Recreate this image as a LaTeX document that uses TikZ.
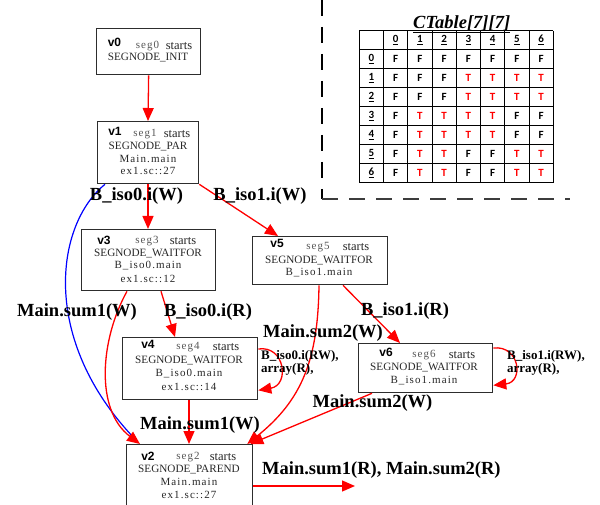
\documentclass[tikz,border=0pt]{standalone}
\usepackage{fontspec}
\setmainfont{Liberation Serif}
\newfontfamily\labsans{Liberation Sans}
\newfontfamily\spacedserif[LetterSpace=10]{Liberation Serif}
\newfontfamily\tabfont{Carlito}
\usetikzlibrary{arrows.meta}
\definecolor{edgered}{RGB}{255,0,0}
\definecolor{edgeblue}{RGB}{0,0,255}
\definecolor{boxline}{RGB}{45,45,45}
\definecolor{bodytext}{RGB}{40,40,40}
\definecolor{segtext}{RGB}{85,85,85}
\definecolor{dashgray}{RGB}{60,60,60}
% one table cell: T in red, F in black
\newcommand\cellval[1]{\if#1T\textcolor{edgered}{T}\else F\fi}
\tikzset{
  segbox/.style={draw=boxline, line width=1.3pt, anchor=north west, inner sep=0pt},
  vname/.style={font=\labsans\bfseries\fontsize{12}{13}\selectfont, inner sep=0pt},
  segname/.style={font=\spacedserif\fontsize{11}{12}\selectfont, text=segtext, inner sep=0pt},
  startstxt/.style={font=\fontsize{12.5}{13}\selectfont, text=bodytext, inner sep=0pt},
  kindtxt/.style={font=\fontsize{11.2}{12}\selectfont, text=bodytext, inner sep=0pt},
  loctxt/.style={font=\spacedserif\fontsize{11}{12}\selectfont, text=bodytext, inner sep=0pt},
  flow/.style={draw=edgered, line width=1.3pt, -{Triangle[length=13pt,width=11pt]}},
  blueflow/.style={draw=edgeblue, line width=1.2pt},
  elabel/.style={font=\fontsize{18.5}{20}\selectfont\bfseries, inner sep=0pt},
  looplabel/.style={font=\fontsize{13}{13}\selectfont\bfseries, inner sep=0pt, align=left, anchor=west},
  tabtxt/.style={font=\tabfont\bfseries\fontsize{11}{12}\selectfont, inner sep=0pt},
  tabline/.style={draw=black, line width=0.9pt},
  sepline/.style={line width=1.3pt, dash pattern=on 16pt off 11pt}
}
\begin{document}
\begin{tikzpicture}[x=1pt, y=-1pt]
\clip (0,0) rectangle (600,505);
\fill[white] (0,0) rectangle (600,505);

% ---------- segment boxes ----------
\node[segbox, minimum width=104pt, minimum height=46pt] (v0) at (96,28) {};
\node[vname] (v0n) at (114.5,42) {v0};
\node[segname] (v0s) at (147.5,46) {seg0};
\node[startstxt] (v0a) at (179,46) {starts};
\node[kindtxt] (v0k) at (148,57.5) {SEGNODE\_INIT};

\node[segbox, minimum width=101pt, minimum height=62pt] (v1) at (97,121) {};
\node[vname] (v1n) at (115,131) {v1};
\node[segname] (v1s) at (145,134) {seg1};
\node[startstxt] (v1a) at (177,134) {starts};
\node[kindtxt] (v1k) at (148,147) {SEGNODE\_PAR};
\node[loctxt] (v1m) at (148,159) {Main.main};
\node[loctxt] (v1l) at (148,171) {ex1.sc::27};

\node[segbox, minimum width=134pt, minimum height=61pt] (v3) at (81,229) {};
\node[vname] (v3n) at (104,240) {v3};
\node[segname] (v3s) at (147,241) {seg3};
\node[startstxt] (v3a) at (183,241) {starts};
\node[kindtxt] (v3k) at (148,253.5) {SEGNODE\_WAITFOR};
\node[loctxt] (v3m) at (148,266) {B\_iso0.main};
\node[loctxt] (v3l) at (148,279) {ex1.sc::12};

\node[segbox, minimum width=135pt, minimum height=48pt] (v5) at (252,236) {};
\node[vname] (v5n) at (277,243) {v5};
\node[segname] (v5s) at (318,247) {seg5};
\node[startstxt] (v5a) at (356,247) {starts};
\node[kindtxt] (v5k) at (319,260.5) {SEGNODE\_WAITFOR};
\node[loctxt] (v5m) at (319,273) {B\_iso1.main};

\node[segbox, minimum width=135pt, minimum height=62pt] (v4) at (122,337) {};
\node[vname] (v4n) at (148,344) {v4};
\node[segname] (v4s) at (188,347.5) {seg4};
\node[startstxt] (v4a) at (226,347.5) {starts};
\node[kindtxt] (v4k) at (189,361) {SEGNODE\_WAITFOR};
\node[loctxt] (v4m) at (189,373.5) {B\_iso0.main};
\node[loctxt] (v4l) at (189,386.5) {ex1.sc::14};

\node[segbox, minimum width=134pt, minimum height=49pt] (v6) at (358,343) {};
\node[vname] (v6n) at (386,352) {v6};
\node[segname] (v6s) at (424,355) {seg6};
\node[startstxt] (v6a) at (462,355) {starts};
\node[kindtxt] (v6k) at (424,367.5) {SEGNODE\_WAITFOR};
\node[loctxt] (v6m) at (424,381) {B\_iso1.main};

\node[segbox, minimum width=126pt, minimum height=66pt] (v2) at (126,444) {};
\node[vname] (v2n) at (148,456) {v2};
\node[segname] (v2s) at (188,457) {seg2};
\node[startstxt] (v2a) at (223,457) {starts};
\node[kindtxt] (v2k) at (189,469.5) {SEGNODE\_PAREND};
\node[loctxt] (v2m) at (189,482) {Main.main};
\node[loctxt] (v2l) at (189,495) {ex1.sc::27};

\coordinate (out) at (355,486);

% ---------- dependence edges ----------
\draw[blueflow] ([xshift=8pt]v1.south west) .. controls (55,225) and (40,340) .. ([xshift=9pt,yshift=5pt]v2.north west);
\draw[flow] (v0.south) -- ([xshift=51pt]v1.north west);
\draw[flow] ([xshift=51pt]v1.south west) -- ([xshift=67pt]v3.north west);
\draw[flow] (v1.south east) -- ([xshift=26pt]v5.north west);
\draw[flow] ([xshift=46pt]v3.south west) .. controls (100,340) and (95,410) .. ([xshift=14pt]v2.north west);
\draw[flow] ([xshift=80pt]v3.south west) -- ([xshift=53pt]v4.north west);
\draw[flow] ([yshift=-12pt]v4.north east) .. controls (285,345) and (290,385) .. ([yshift=10pt]v4.south east);
\draw[flow] ([xshift=67pt]v4.south west) -- ([xshift=63pt]v2.north west);
\draw[flow] ([xshift=67pt]v5.south west) .. controls (318,360) and (302,400) .. ([xshift=-6pt]v2.north east);
\draw[flow] ([xshift=91pt]v5.south west) -- ([xshift=42pt]v6.north west);
\draw[flow] ([yshift=-5pt]v6.north east) .. controls (520,345) and (524,382) .. ([yshift=8pt]v6.south east);
\draw[flow] ([xshift=14pt]v6.south west) -- ([xshift=-3pt]v2.north east);
\draw[flow] ([yshift=-42pt]v2.north east) -- (out);

% ---------- edge labels ----------
\node[elabel] (l13) at (136.5,196) {B\_iso0.i(W)};
\node[elabel] (l15) at (260,196) {B\_iso1.i(W)};
\node[elabel] (l32) at (77,312) {Main.sum1(W)};
\node[elabel] (l34) at (208,312) {B\_iso0.i(R)};
\node[elabel] (l52) at (323,333) {Main.sum2(W)};
\node[elabel] (l56) at (405,311) {B\_iso1.i(R)};
\node[elabel] (l62) at (372.5,403) {Main.sum2(W)};
\node[elabel] (l42) at (200,425) {Main.sum1(W)};
\node[elabel, anchor=west] (l2o) at (262,470) {Main.sum1(R), Main.sum2(R)};
\node[looplabel] (l44) at (261,362.5) {B\_iso0.i(RW),\\array(R),};
\node[looplabel] (l66) at (507,362.5) {B\_iso1.i(RW),\\array(R),};

% ---------- separator ----------
\draw[sepline, draw=black] (322,0) -- (322,199);
\draw[sepline, draw=dashgray] (322,199) -- (570,199);

% ---------- CTable[7][7] ----------
\node[font=\fontsize{18.5}{20}\selectfont\bfseries\itshape, inner sep=0pt, anchor=base] (ctitle) at (461.7,28.3) {\underline{CTable[7][7]}};
\foreach \i in {0,...,8} {
  \draw[tabline] ({359.3+24.25*\i},30.7) -- ({359.3+24.25*\i},182.7);
  \draw[tabline] (359.3,{30.7+19*\i}) -- (553.3,{30.7+19*\i});
}
\foreach \c in {0,...,6} {
  \node[tabtxt] (colh\c) at ({359.3+24.25*(\c+1)+12.1},{30.7+9.5}) {\underline{\c}};
  \node[tabtxt] (rowh\c) at ({359.3+12.1},{30.7+19*(\c+1)+9.5}) {\underline{\c}};
}
\foreach \row [count=\r from 0] in {{F,F,F,F,F,F,F},{F,F,F,T,T,T,T},{F,F,F,T,T,T,T},{F,T,T,T,T,F,F},{F,T,T,T,T,F,F},{F,T,T,F,F,T,T},{F,T,T,F,F,T,T}} {
  \foreach \v [count=\c from 0] in \row {
    \node[tabtxt] (cell\r\c) at ({359.3+24.25*(\c+1)+12.1},{30.7+19*(\r+1)+9.5}) {\cellval\v};
  }
}
\end{tikzpicture}
\end{document}
